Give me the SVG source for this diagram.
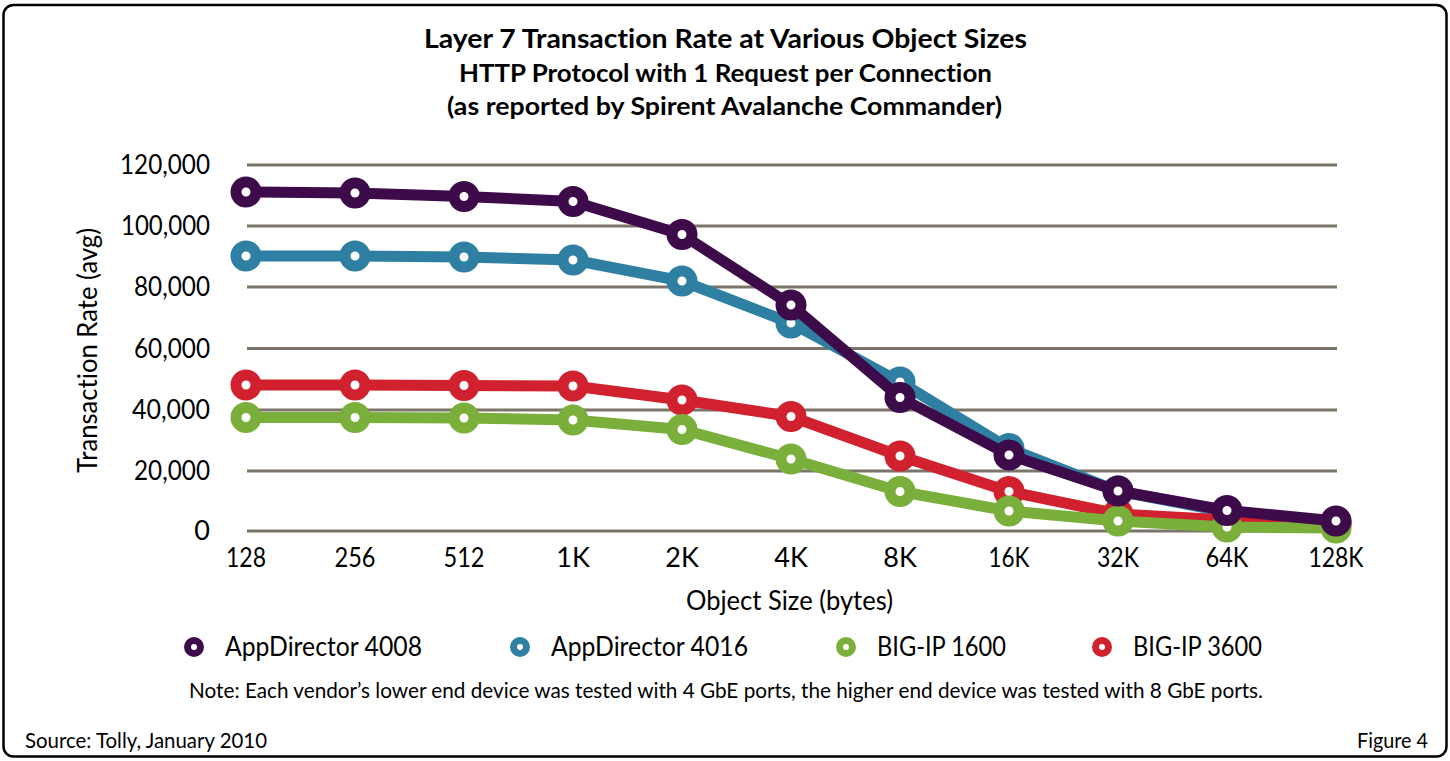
<svg xmlns="http://www.w3.org/2000/svg" width="1450" height="761" viewBox="0 0 1450 761">
<style>
text{font-family:Lato,"Liberation Sans",sans-serif;fill:#000;font-variant-ligatures:none;font-feature-settings:"liga" 0,"dlig" 0}
.t{font-weight:bold}
.ax{font-size:27px}
.lg{font-size:26px}
.sm{font-size:21px}
.grid line{stroke:#7a7568;stroke-width:3}
.ln{fill:none;stroke-width:11;stroke-linejoin:round;stroke-linecap:round}
.mk circle{fill:#fff;stroke-width:11}
.lm{fill:#fff;stroke-width:7}
</style>
<rect x="3.5" y="5" width="1443" height="751.5" rx="10" fill="#fff" stroke="#000" stroke-width="2.5"/>
<g id="title">
<text class="t" x="725.5" y="48" font-size="27" text-anchor="middle" textLength="603" lengthAdjust="spacingAndGlyphs">Layer 7 Transaction Rate at Various Object Sizes</text>
<text class="t" x="725.5" y="81.5" font-size="25" text-anchor="middle" textLength="533" lengthAdjust="spacingAndGlyphs">HTTP Protocol with 1 Request per Connection</text>
<text class="t" x="724.5" y="115" font-size="25" text-anchor="middle" textLength="555" lengthAdjust="spacingAndGlyphs">(as reported by Spirent Avalanche Commander)</text>
</g>
<g id="gridlines" class="grid">
<line x1="247" y1="165" x2="1337" y2="165"/>
<line x1="247" y1="226" x2="1337" y2="226"/>
<line x1="247" y1="287" x2="1337" y2="287"/>
<line x1="247" y1="348.5" x2="1337" y2="348.5"/>
<line x1="247" y1="410" x2="1337" y2="410"/>
<line x1="247" y1="471" x2="1337" y2="471"/>
<line x1="247" y1="531" x2="1337" y2="531"/>
</g>
<g id="y-axis" class="ax" text-anchor="end">
<text x="210" y="174" textLength="90" lengthAdjust="spacingAndGlyphs">120,000</text>
<text x="210" y="235" textLength="89" lengthAdjust="spacingAndGlyphs">100,000</text>
<text x="210" y="296" textLength="76" lengthAdjust="spacingAndGlyphs">80,000</text>
<text x="210" y="357.5" textLength="76" lengthAdjust="spacingAndGlyphs">60,000</text>
<text x="210" y="419" textLength="78" lengthAdjust="spacingAndGlyphs">40,000</text>
<text x="210" y="480" textLength="76" lengthAdjust="spacingAndGlyphs">20,000</text>
<text x="210" y="540">0</text>
<text x="97" y="350.5" text-anchor="middle" transform="rotate(-90 97 350.5)" textLength="245" lengthAdjust="spacingAndGlyphs">Transaction Rate (avg)</text>
</g>
<g id="x-axis" class="ax" text-anchor="middle">
<text x="246" y="567" textLength="40" lengthAdjust="spacingAndGlyphs">128</text>
<text x="355" y="567" textLength="41" lengthAdjust="spacingAndGlyphs">256</text>
<text x="464" y="567" textLength="41" lengthAdjust="spacingAndGlyphs">512</text>
<text x="573" y="567">1K</text>
<text x="682" y="567">2K</text>
<text x="791" y="567">4K</text>
<text x="900" y="567">8K</text>
<text x="1009" y="567" textLength="41" lengthAdjust="spacingAndGlyphs">16K</text>
<text x="1118" y="567" textLength="42" lengthAdjust="spacingAndGlyphs">32K</text>
<text x="1227" y="567" textLength="43" lengthAdjust="spacingAndGlyphs">64K</text>
<text x="1336" y="567" textLength="55" lengthAdjust="spacingAndGlyphs">128K</text>
<text x="789.5" y="610" textLength="207" lengthAdjust="spacingAndGlyphs">Object Size (bytes)</text>
</g>
<g id="connectors">
<g id="series-appdirector-4016" stroke="#2e7fa1">
<polyline class="ln" points="246,256 355,256 464,257 573,260 682,281 791,323 900,382 1009,448.5 1118,491 1227,512 1336,522"/>
<g class="mk"><circle cx="246" cy="256" r="10"/><circle cx="355" cy="256" r="10"/><circle cx="464" cy="257" r="10"/><circle cx="573" cy="260" r="10"/><circle cx="682" cy="281" r="10"/><circle cx="791" cy="323" r="10"/><circle cx="900" cy="382" r="10"/><circle cx="1009" cy="448.5" r="10"/><circle cx="1118" cy="491" r="10"/><circle cx="1227" cy="512" r="10"/><circle cx="1336" cy="522" r="10"/></g>
</g>
<g id="series-bigip-3600" stroke="#d1202e">
<polyline class="ln" points="246,385 355,385 464,385.5 573,386 682,400 791,416.5 900,456 1009,491.5 1118,514 1227,520 1336,525"/>
<g class="mk"><circle cx="246" cy="385" r="10"/><circle cx="355" cy="385" r="10"/><circle cx="464" cy="385.5" r="10"/><circle cx="573" cy="386" r="10"/><circle cx="682" cy="400" r="10"/><circle cx="791" cy="416.5" r="10"/><circle cx="900" cy="456" r="10"/><circle cx="1009" cy="491.5" r="10"/><circle cx="1118" cy="514" r="10"/><circle cx="1227" cy="520" r="10"/><circle cx="1336" cy="525" r="10"/></g>
</g>
<g id="series-bigip-1600" stroke="#7aaf3b">
<polyline class="ln" points="246,417.5 355,417.5 464,418 573,420 682,429.5 791,459 900,491.5 1009,511 1118,521 1227,527 1336,528"/>
<g class="mk"><circle cx="246" cy="417.5" r="10"/><circle cx="355" cy="417.5" r="10"/><circle cx="464" cy="418" r="10"/><circle cx="573" cy="420" r="10"/><circle cx="682" cy="429.5" r="10"/><circle cx="791" cy="459" r="10"/><circle cx="900" cy="491.5" r="10"/><circle cx="1009" cy="511" r="10"/><circle cx="1118" cy="521" r="10"/><circle cx="1227" cy="527" r="10"/><circle cx="1336" cy="528" r="10"/></g>
</g>
<g id="series-appdirector-4008" stroke="#3e0b4a">
<polyline class="ln" points="246,192 355,193 464,196.5 573,201.5 682,234.5 791,305 900,397.5 1009,455 1118,491 1227,510.5 1336,521"/>
<g class="mk"><circle cx="246" cy="192" r="10"/><circle cx="355" cy="193" r="10"/><circle cx="464" cy="196.5" r="10"/><circle cx="573" cy="201.5" r="10"/><circle cx="682" cy="234.5" r="10"/><circle cx="791" cy="305" r="10"/><circle cx="900" cy="397.5" r="10"/><circle cx="1009" cy="455" r="10"/><circle cx="1118" cy="491" r="10"/><circle cx="1227" cy="510.5" r="10"/><circle cx="1336" cy="521" r="10"/></g>
</g>
</g>
<g id="legend" class="lg">
<g id="legend-4008"><circle class="lm" cx="194" cy="647" r="6.5" stroke="#3e0b4a"/><text x="225" y="655.5" textLength="197" lengthAdjust="spacingAndGlyphs">AppDirector 4008</text></g>
<g id="legend-4016"><circle class="lm" cx="520" cy="647" r="6.5" stroke="#2e7fa1"/><text x="551" y="655.5" textLength="197" lengthAdjust="spacingAndGlyphs">AppDirector 4016</text></g>
<g id="legend-1600"><circle class="lm" cx="846" cy="647" r="6.5" stroke="#7aaf3b"/><text x="877" y="655.5" textLength="129" lengthAdjust="spacingAndGlyphs">BIG-IP 1600</text></g>
<g id="legend-3600"><circle class="lm" cx="1102" cy="647" r="6.5" stroke="#d1202e"/><text x="1133" y="655.5" textLength="129" lengthAdjust="spacingAndGlyphs">BIG-IP 3600</text></g>
</g>
<g id="notes" class="sm">
<text x="726" y="698" text-anchor="middle" textLength="1074" lengthAdjust="spacingAndGlyphs">Note: Each vendor’s lower end device was tested with 4 GbE ports, the higher end device was tested with 8 GbE ports.</text>
<text x="25" y="748" textLength="242" lengthAdjust="spacingAndGlyphs">Source: Tolly, January 2010</text>
<text x="1428" y="748" text-anchor="end" textLength="71" lengthAdjust="spacingAndGlyphs">Figure 4</text>
</g>
</svg>
